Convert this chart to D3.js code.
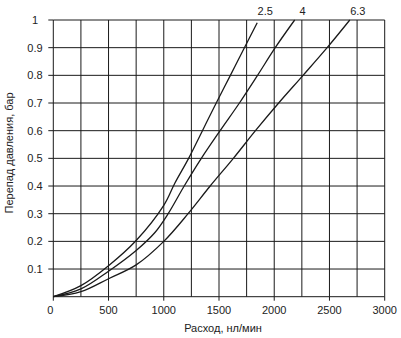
<!DOCTYPE html>
<html><head><meta charset="utf-8">
<script src="https://cdn.jsdelivr.net/npm/d3@7"></script>
<style>
html,body{margin:0;padding:0;background:#fff;}
text{font-family:"Liberation Sans",Arial,sans-serif;fill:#222;}
</style></head>
<body>
<svg id="c" width="401" height="338"></svg>
<script>
// Data
const seriesNames = ["2.5", "4", "6.3"];
const flow25 = [0, 250, 500, 750, 1000, 1100, 1225, 1350, 1475, 1603, 1730, 1846];
const dp25   = [0, 0.04, 0.112, 0.203, 0.33, 0.41, 0.5, 0.6, 0.7, 0.8, 0.9, 0.99];
const flow4  = [0, 250, 500, 750, 920, 1040, 1185, 1340, 1510, 1685, 1849, 2009, 2185];
const dp4    = [0, 0.028, 0.092, 0.167, 0.232, 0.3, 0.4, 0.5, 0.6, 0.7, 0.8, 0.9, 1.0];
const flow63 = [0, 250, 500, 750, 1000, 1220, 1420, 1630, 1830, 2040, 2261, 2479, 2684];
const dp63   = [0, 0.018, 0.065, 0.115, 0.2, 0.3, 0.4, 0.5, 0.6, 0.7, 0.8, 0.9, 1.0];
const xTickLabels = [0, 500, 1000, 1500, 2000, 2500, 3000];
const yTickLabels = [0.1, 0.2, 0.3, 0.4, 0.5, 0.6, 0.7, 0.8, 0.9, 1];
const xGrid = d3.range(0, 3001, 250);
const yGrid = d3.range(0, 11).map(i => i / 10);
const xTitle = "Расход, нл/мин";
const yTitle = "Перепад давления, бар";

const svg = d3.select("#c");
const x = d3.scaleLinear().domain([0, 3000]).range([53.3, 384.7]);
const y = d3.scaleLinear().domain([0, 1]).range([296.7, 20]);

// grid
svg.append("g").selectAll("line").data(xGrid).join("line")
  .attr("x1", d => x(d)).attr("x2", d => x(d))
  .attr("y1", y(0)).attr("y2", y(1))
  .attr("stroke", "#1a1a1a").attr("stroke-width", 1);
svg.append("g").selectAll("line").data(yGrid).join("line")
  .attr("x1", x(0)).attr("x2", x(3000))
  .attr("y1", d => y(d)).attr("y2", d => y(d))
  .attr("stroke", "#1a1a1a").attr("stroke-width", 1);

// y ticks + labels
svg.append("g").selectAll("line").data(yTickLabels).join("line")
  .attr("x1", x(0) - 5).attr("x2", x(0))
  .attr("y1", d => y(d)).attr("y2", d => y(d))
  .attr("stroke", "#1a1a1a");
svg.append("g").selectAll("text").data(yTickLabels).join("text")
  .attr("x", 35).attr("y", d => y(d) + 4)
  .attr("text-anchor", "middle").attr("font-size", 11)
  .text(d => String(d));

// x ticks + labels
svg.append("g").selectAll("line").data(xTickLabels).join("line")
  .attr("x1", d => x(d)).attr("x2", d => x(d))
  .attr("y1", y(0)).attr("y2", y(0) + 4)
  .attr("stroke", "#1a1a1a");
svg.append("g").selectAll("text").data(xTickLabels).join("text")
  .attr("x", d => x(d) - (d === 0 ? 3 : 0)).attr("y", 314)
  .attr("text-anchor", "middle").attr("font-size", 11)
  .text(d => String(d));

// titles
svg.append("text").attr("x", 223).attr("y", 332)
  .attr("text-anchor", "middle").attr("font-size", 11).text(xTitle);
svg.append("text").attr("transform", "translate(13,153) rotate(-90)")
  .attr("text-anchor", "middle").attr("font-size", 11).text(yTitle);

// curves
const series = [
  {name: seriesNames[0], f: flow25, v: dp25},
  {name: seriesNames[1], f: flow4, v: dp4},
  {name: seriesNames[2], f: flow63, v: dp63}
];
const line = d3.line().x(d => x(d[0])).y(d => y(d[1])).curve(d3.curveCatmullRom.alpha(0.5));
series.forEach(s => {
  const pts = s.f.map((f, i) => [f, s.v[i]]);
  svg.append("path").attr("d", line(pts))
    .attr("fill", "none").attr("stroke", "#1a1a1a").attr("stroke-width", 1.3);
  const last = pts[pts.length - 1];
  svg.append("text").attr("x", x(last[0]) + 8).attr("y", 15)
    .attr("text-anchor", "middle").attr("font-size", 11).text(s.name);
});
</script>
</body></html>
